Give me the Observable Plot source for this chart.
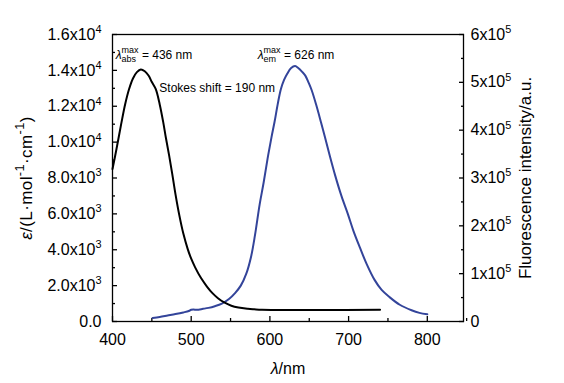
<!DOCTYPE html>
<html><head><meta charset="utf-8">
<script src="https://cdn.jsdelivr.net/npm/d3@7"></script>
<script src="https://cdn.jsdelivr.net/npm/@observablehq/plot@0.6"></script>
<style>body{margin:0;background:#fff}</style>
</head><body><div id="chart"></div>
<script>
// Absorption (left axis, ε in L·mol-1·cm-1)
const absWavelength = [400,405,411,416,421,426,431,436,441,446,450,455,460,464.5,468,472,476,480,485,490,495.5,500,505,512.5,520,527,534,542,551,560,572,580,590,740];
const absValue      = [8500,9600,11000,12100,12950,13550,13900,14050,13950,13700,13350,12950,12100,11100,10200,9250,8200,7100,5900,4900,4050,3500,3020,2420,1950,1580,1300,1060,880,780,710,680,650,650];
// Fluorescence (right axis, a.u.)
const emWavelength = [451,460,470,480,490,497,500,503,507,515,522,530,539,548,556,563,570,576,581,587,592,597,602,606,610,614,618,622,627,632,636,641,645,649,653,659,665,670,676,683,691,699,706,714,723,733,742,752,765,780,790,800];
const emValue      = [7500,9500,12500,15500,19000,22000,24500,25000,24500,26500,28500,32000,37500,47000,60000,75000,100000,135000,180000,245000,290000,340000,385000,418000,455000,486000,505000,518000,530000,534000,530000,522000,514000,500000,484000,452000,416000,385000,347000,305000,262000,225000,190000,156000,120000,87000,66000,51000,35000,23500,18000,15000];

const xDomain = [400, 846];
const leftDomain = [0, 16000];
const rightDomain = [0, 600000];
const xTicks = [400, 500, 600, 700, 800];
const xMinorTicks = [450, 550, 650, 750, 850];
const leftTicks = [0, 2000, 4000, 6000, 8000, 10000, 12000, 14000, 16000];
const leftMinorTicks = [1000, 3000, 5000, 7000, 9000, 11000, 13000, 15000];
const rightTicks = [0, 100000, 200000, 300000, 400000, 500000, 600000];
const rightMinorTicks = [50000, 150000, 250000, 350000, 450000, 550000];

const noteText = ["$λ$@{abs|max} = 436 nm", "$λ$@{em|max} = 626 nm", "Stokes shift = 190 nm"];
const noteX = [404, 584.5, 459.5];
const noteY = [14650, 14650, 12780];

const xLabel = "$λ$/nm";
const leftLabel = "$ε$/(L·mol^{-1}·cm^{-1})";
const rightLabel = "Fluorescence intensity/a.u.";

const W = 564, H = 383, MT = 34, MB = 62, ML = 112, MR = 101;
const PW = W - ML - MR, PH = H - MT - MB;
const K = leftDomain[1] / rightDomain[1];
const absData = absWavelength.map((x, i) => ({x, y: absValue[i]}));
const emData = emWavelength.map((x, i) => ({x, y: emValue[i] * K}));
const notes = noteText.map((t, i) => ({t, x: noteX[i], y: noteY[i]}));

function leftFmt(v) {
  if (v === 0) return "0.0";
  const e = v >= 10000 ? 4 : 3;
  return (v / 10 ** e).toFixed(1) + "x10^{" + e + "}";
}
function rightFmt(d) {
  const v = Math.round(d / K);
  if (v === 0) return "0";
  return Math.round(v / 1e5) + "x10^{5}";
}

const plot = Plot.plot({
  width: W, height: H,
  marginTop: MT, marginBottom: MB, marginLeft: ML, marginRight: MR,
  style: {fontFamily: "'Liberation Sans', Arial, sans-serif", fontSize: "16px", color: "#000", background: "#fff"},
  x: {domain: xDomain},
  y: {domain: leftDomain},
  marks: [
    Plot.axisX(xTicks, {tickSize: 0, tickPadding: 12, fontSize: 16, label: xLabel, labelAnchor: "center", labelOffset: 52, labelArrow: "none"}),
    Plot.axisY(leftTicks, {tickSize: 0, tickPadding: 11, fontSize: 16, tickFormat: leftFmt, label: leftLabel, labelAnchor: "center", labelOffset: 93, labelArrow: "none"}),
    Plot.axisY(rightTicks.map(v => v * K), {anchor: "right", tickSize: 0, tickPadding: 7, fontSize: 16, tickFormat: rightFmt, label: rightLabel, labelAnchor: "center", labelOffset: 67, labelArrow: "none"}),
    // inward tick marks
    Plot.axisX(xTicks, {tickSize: 5, dy: -5, fill: "none", stroke: "#000", strokeWidth: 1.3}),
    Plot.axisX(xMinorTicks, {tickSize: 3, dy: -3, fill: "none", stroke: "#000", strokeWidth: 1.3}),
    Plot.axisY(leftTicks, {tickSize: 5, dx: 5, fill: "none", stroke: "#000", strokeWidth: 1.3}),
    Plot.axisY(leftMinorTicks, {tickSize: 3, dx: 3, fill: "none", stroke: "#000", strokeWidth: 1.3}),
    Plot.axisY(rightTicks.map(v => v * K), {anchor: "right", tickSize: 5, dx: -5, fill: "none", stroke: "#000", strokeWidth: 1.3}),
    Plot.axisY(rightMinorTicks.map(v => v * K), {anchor: "right", tickSize: 3, dx: -3, fill: "none", stroke: "#000", strokeWidth: 1.3}),
    Plot.frame({stroke: "#000", strokeWidth: 1.3}),
    Plot.line(emData, {x: "x", y: "y", stroke: "#33449a", strokeWidth: 2, curve: "catmull-rom"}),
    Plot.line(absData, {x: "x", y: "y", stroke: "#000", strokeWidth: 2, curve: "catmull-rom"}),
    Plot.text(notes, {x: "x", y: "y", text: "t", textAnchor: "start", lineAnchor: "bottom", fontSize: 12})
  ]
});
document.getElementById("chart").appendChild(plot);

const NS = "http://www.w3.org/2000/svg";
function rich(el, supScale) {
  const s = el.textContent;
  if (!/[\^$@]/.test(s)) return;
  const fs = parseFloat(getComputedStyle(el).fontSize) || 16;
  el.textContent = "";
  let cur = 0;
  const add = (txt, target, attrs = {}) => {
    const t = document.createElementNS(NS, "tspan");
    t.textContent = txt;
    const dy = target - cur;
    if (dy) t.setAttribute("dy", dy.toFixed(2));
    cur = target;
    for (const k in attrs) t.setAttribute(k, attrs[k]);
    el.appendChild(t);
    return t;
  };
  const re = /\^\{([^}]*)\}|\$([^$]*)\$|@\{([^|]*)\|([^}]*)\}|([^\^$@]+)/g;
  let m, pendingDx = 0;
  while ((m = re.exec(s))) {
    if (m[1] !== undefined) {
      add(m[1], -0.42 * fs, {"font-size": (supScale * fs).toFixed(1)});
    } else if (m[2] !== undefined) {
      const t = add(m[2], 0, {"font-style": "italic"});
      if (pendingDx) { t.setAttribute("dx", pendingDx); pendingDx = 0; }
    } else if (m[3] !== undefined) {
      const sup = add(m[4], -0.45 * fs, {"font-size": (0.75 * fs).toFixed(1)});
      const w1 = sup.getComputedTextLength();
      const sub = add(m[3], 0.3 * fs, {"font-size": (0.75 * fs).toFixed(1), dx: (-w1).toFixed(2)});
      const w2 = sub.getComputedTextLength();
      pendingDx = Math.max(0, w1 - w2);
    } else {
      const t = add(m[5], 0);
      if (pendingDx) { t.setAttribute("dx", pendingDx.toFixed(2)); pendingDx = 0; }
    }
  }
}
plot.querySelectorAll("text").forEach(el => {
  const s = el.textContent;
  const isLabel = s === xLabel || s === leftLabel || s === rightLabel;
  if (isLabel) el.setAttribute("font-size", s === xLabel ? 16 : 17);
  if (s === leftLabel) el.setAttribute("letter-spacing", "0.4");
  rich(el, isLabel ? 0.75 : 0.68);
});
</script>
</body></html>
